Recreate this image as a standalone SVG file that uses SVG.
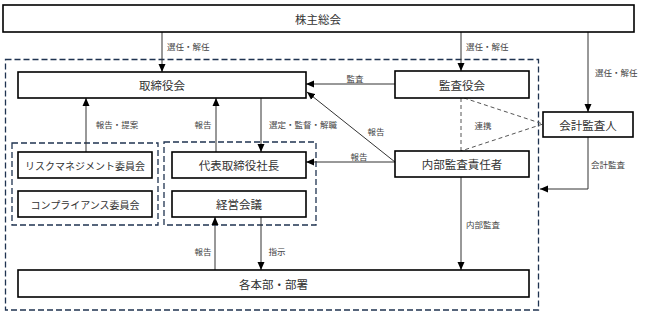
<svg xmlns="http://www.w3.org/2000/svg" width="645" height="317" viewBox="0 0 645 317">
<style>
.box{fill:#fff;stroke:#000;stroke-width:1.6}
.grp{fill:none;stroke:#1f3350;stroke-width:1.3;stroke-dasharray:6,3}
.t{font-family:"Noto Sans CJK JP","Noto Sans CJK SC",sans-serif;font-size:11.5px;fill:#333;text-anchor:middle;dominant-baseline:central}
.ts{font-family:"Noto Sans CJK JP","Noto Sans CJK SC",sans-serif;font-size:10px;fill:#333;text-anchor:middle;dominant-baseline:central}
.lb{font-family:"Noto Sans CJK JP","Noto Sans CJK SC",sans-serif;font-size:8.5px;fill:#444;dominant-baseline:central}
.c{fill:none;stroke:#333;stroke-width:1}
.d{fill:none;stroke:#555;stroke-width:1;stroke-dasharray:4,3}
</style>
<defs>
<marker id="ah" viewBox="0 0 8 8" refX="8" refY="4" markerWidth="8" markerHeight="8" markerUnits="userSpaceOnUse" orient="auto">
<path d="M0,0.5 L8,4 L0,7.5 Z" fill="#000"/>
</marker>
</defs>
<rect x="0" y="0" width="645" height="317" fill="#fff"/>
<g id="groups">
<rect class="grp" x="5.5" y="59.5" width="533" height="250.5"/>
<rect class="grp" x="12" y="143" width="146" height="82"/>
<rect class="grp" x="164" y="142" width="152" height="83"/>
</g>
<g id="connectors">
<path class="c" d="M162,32 V72" marker-end="url(#ah)"/>
<path class="c" d="M461,32 V71" marker-end="url(#ah)"/>
<path class="c" d="M588,32 V112" marker-end="url(#ah)"/>
<path class="c" d="M395,84 H306" marker-end="url(#ah)"/>
<path class="c" d="M395,162 L307,92" marker-end="url(#ah)"/>
<path class="c" d="M395,162 H306" marker-end="url(#ah)"/>
<path class="d" d="M461,98 V151"/>
<path class="d" d="M464,98 L543,124 L461,151"/>
<path class="c" d="M588,137 V189 H540" marker-end="url(#ah)"/>
<path class="c" d="M461,177 V270" marker-end="url(#ah)"/>
<path class="c" d="M86,152 V98" marker-end="url(#ah)"/>
<path class="c" d="M216,152 V98" marker-end="url(#ah)"/>
<path class="c" d="M261,98 V152" marker-end="url(#ah)"/>
<path class="c" d="M215,270 V217" marker-end="url(#ah)"/>
<path class="c" d="M261,217 V270" marker-end="url(#ah)"/>
<text class="lb" x="167" y="46">選任・解任</text>
<text class="lb" x="466" y="46">選任・解任</text>
<text class="lb" x="595" y="72">選任・解任</text>
<text class="lb" x="355" y="78" text-anchor="middle">監査</text>
<text class="lb" x="117" y="124" text-anchor="middle">報告・提案</text>
<text class="lb" x="203" y="124" text-anchor="middle">報告</text>
<text class="lb" x="303" y="124" text-anchor="middle">選定・監督・解職</text>
<text class="lb" x="376" y="131" text-anchor="middle">報告</text>
<text class="lb" x="359" y="156" text-anchor="middle">報告</text>
<text class="lb" x="483" y="125" text-anchor="middle">連携</text>
<text class="lb" x="608" y="164" text-anchor="middle">会計監査</text>
<text class="lb" x="483" y="224" text-anchor="middle">内部監査</text>
<text class="lb" x="203" y="251" text-anchor="middle">報告</text>
<text class="lb" x="277" y="251" text-anchor="middle">指示</text>
</g>
<g id="n-shareholders"><rect class="box" x="3" y="5" width="631" height="27"/><text class="t" x="318" y="18.5">株主総会</text></g>
<g id="n-board"><rect class="box" x="18" y="72" width="288" height="26"/><text class="t" x="162" y="85">取締役会</text></g>
<g id="n-auditboard"><rect class="box" x="395" y="71" width="134" height="27"/><text class="t" x="462" y="84.5">監査役会</text></g>
<g id="n-accountant"><rect class="box" x="543" y="112" width="90" height="25"/><text class="t" x="588" y="124.5">会計監査人</text></g>
<g id="n-risk"><rect class="box" x="18" y="152" width="134" height="26"/><text class="ts" x="85" y="165">リスクマネジメント委員会</text></g>
<g id="n-compliance"><rect class="box" x="18" y="191" width="134" height="26"/><text class="ts" x="85" y="204">コンプライアンス委員会</text></g>
<g id="n-president"><rect class="box" x="172" y="152" width="134" height="26"/><text class="t" x="239" y="165">代表取締役社長</text></g>
<g id="n-management"><rect class="box" x="172" y="191" width="134" height="26"/><text class="t" x="239" y="204">経営会議</text></g>
<g id="n-internalaudit"><rect class="box" x="395" y="151" width="134" height="26"/><text class="t" x="462" y="164">内部監査責任者</text></g>
<g id="n-departments"><rect class="box" x="18" y="270" width="511" height="27"/><text class="t" x="273.5" y="283.5">各本部・部署</text></g>
</svg>
